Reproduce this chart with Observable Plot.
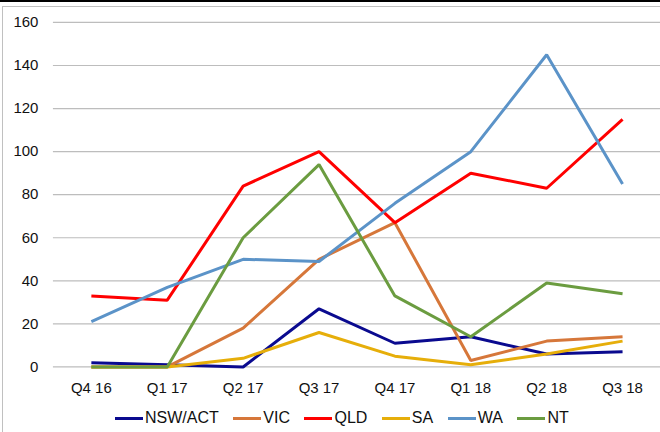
<!DOCTYPE html>
<html>
<head>
<meta charset="utf-8">
<script src="https://cdn.jsdelivr.net/npm/d3@7"></script>
<script src="https://cdn.jsdelivr.net/npm/@observablehq/plot@0.6"></script>
<style>
  html, body { margin: 0; padding: 0; background: #fff; }
  #wrap { position: relative; width: 660px; height: 432px; overflow: hidden; background: #fff; font-family: "Liberation Sans", Arial, sans-serif; }
  #topline { position: absolute; left: 0; top: 0; width: 660px; height: 2px; background: #000; }
  #frame { position: absolute; left: 2px; top: 6px; width: 720px; height: 480px; border: 1.5px solid #c0c0c0; box-sizing: border-box; }
  #chart { position: absolute; left: 0; top: 0; }
  #legend { position: absolute; left: 115px; top: 409px; display: flex; align-items: center; font-size: 16px; color: #111; white-space: nowrap; }
  .item { display: flex; align-items: center; margin-right: 14.5px; }
  .sw { width: 28px; height: 3px; margin-right: 2px; }
</style>
</head>
<body>
<div id="wrap">
  <div id="topline"></div>
  <div id="frame"></div>
  <div id="chart"></div>
  <div id="legend"></div>
</div>
<script>
const quarters = ["Q4 16", "Q1 17", "Q2 17", "Q3 17", "Q4 17", "Q1 18", "Q2 18", "Q3 18"];
const seriesNames = ["NSW/ACT", "VIC", "QLD", "SA", "WA", "NT"];
const seriesColors = ["#0a0a8f", "#d6773a", "#ff0000", "#e6ae0a", "#5b93c8", "#6b9c40"];
const nswAct = [2, 1, 0, 27, 11, 14, 6, 7];
const vic = [0, 0, 18, 50, 67, 3, 12, 14];
const qld = [33, 31, 84, 100, 67, 90, 83, 115];
const sa = [0, 0, 4, 16, 5, 1, 6, 12];
const wa = [21, 37, 50, 49, 76, 100, 145, 85];
const nt = [0, 0, 60, 94, 33, 14, 39, 34];
const yTicks = [0, 20, 40, 60, 80, 100, 120, 140, 160];

const seriesValues = [nswAct, vic, qld, sa, wa, nt];
const data = [];
seriesNames.forEach((s, i) => {
  quarters.forEach((q, j) => data.push({series: s, quarter: q, value: seriesValues[i][j]}));
});

const chart = Plot.plot({
  width: 661,
  height: 400,
  marginLeft: 53,
  marginRight: 0,
  marginTop: 22,
  marginBottom: 33,
  style: {fontFamily: '"Liberation Sans", Arial, sans-serif', fontSize: "15px", color: "#111", background: "transparent", overflow: "visible"},
  x: {type: "band", domain: quarters, padding: 0, label: null},
  y: {domain: [0, 160], label: null},
  color: {domain: seriesNames, range: seriesColors},
  marks: [
    Plot.ruleY(yTicks, {stroke: "#bdbdbd", strokeWidth: 1.2}),
    Plot.axisY(yTicks, {tickSize: 0, tickPadding: 15, label: null, fontSize: 15}),
    Plot.axisX({tickSize: 0, tickPadding: 15, label: null, fontSize: 15}),
    Plot.line(data, {x: "quarter", y: "value", z: "series", stroke: "series", strokeWidth: 3, strokeLinejoin: "miter", strokeLinecap: "butt"})
  ]
});
document.getElementById("chart").appendChild(chart);

const legend = document.getElementById("legend");
seriesNames.forEach((s, i) => {
  const it = document.createElement("div");
  it.className = "item";
  const sw = document.createElement("div");
  sw.className = "sw";
  sw.style.background = seriesColors[i];
  const t = document.createElement("span");
  t.textContent = s;
  it.appendChild(sw);
  it.appendChild(t);
  legend.appendChild(it);
});
</script>
</body>
</html>
